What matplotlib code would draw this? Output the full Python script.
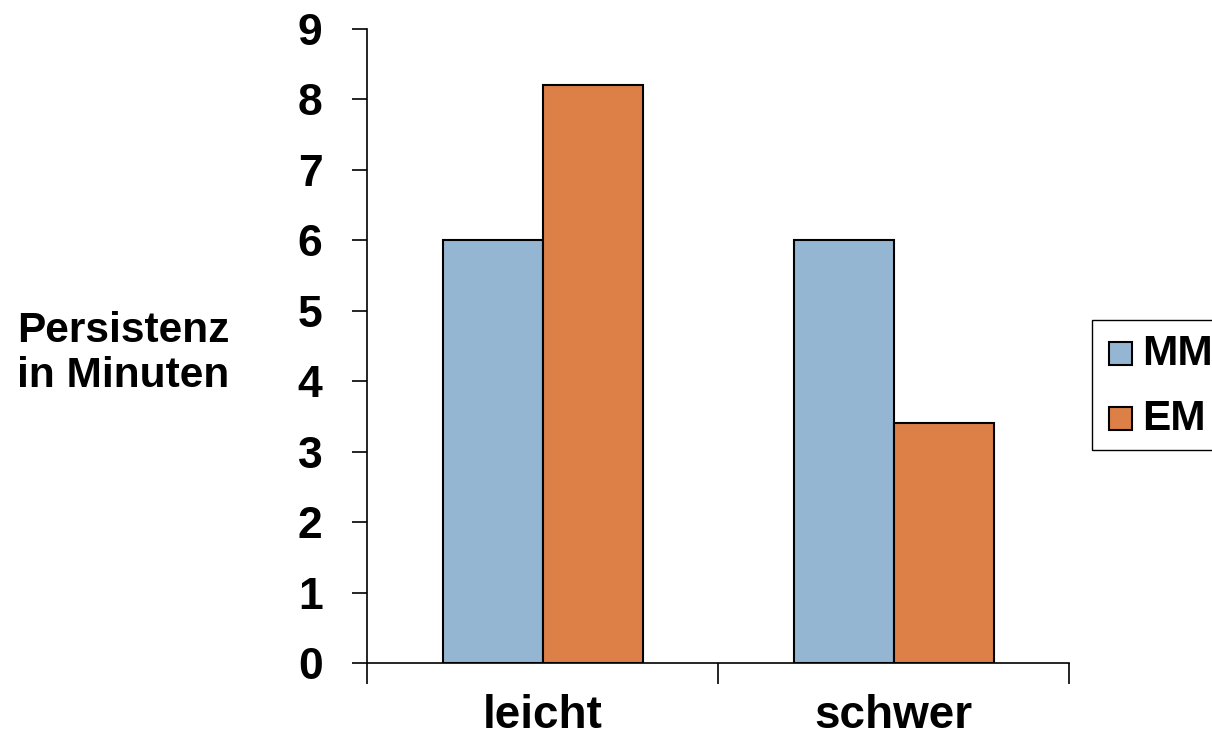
import matplotlib
matplotlib.use("Agg")
import matplotlib.pyplot as plt
from matplotlib.patches import Rectangle
import numpy as np

categories = ["leicht", "schwer"]
series_names = ["MM", "EM"]
mm_values = [6.0, 6.0]
em_values = [8.2, 3.4]
colors = ["#95b6d3", "#dd8048"]

plt.rcParams['font.family'] = ['Liberation Sans', 'DejaVu Sans']
plt.rcParams['font.weight'] = 'bold'

fig = plt.figure(figsize=(12.12, 7.38), dpi=100)
W, H = 1212, 738
def fx(px):
    return px / W
def fy(py):
    return 1 - py / H

ax = fig.add_axes([fx(367), fy(663), (1069-367)/W, (663-29)/H])

x = np.arange(len(categories))
bw = 100/351
ax.bar(x - bw/2, mm_values, bw, color=colors[0], edgecolor='black', linewidth=1.5, label=series_names[0])
ax.bar(x + bw/2, em_values, bw, color=colors[1], edgecolor='black', linewidth=1.5, label=series_names[1])

ax.set_xlim(-0.5, 1.5)
ax.set_ylim(0, 9)
ax.set_yticks(range(0, 10))
ax.tick_params(axis='y', direction='out', length=11, width=1.2, labelsize=32, pad=21)
ax.set_xticks([-0.5, 0.5, 1.5])
ax.set_xticklabels([])
ax.tick_params(axis='x', direction='out', length=15, width=1.2)
for lab in ax.get_yticklabels():
    lab.set_fontweight('bold')

ax.spines['top'].set_visible(False)
ax.spines['right'].set_visible(False)
ax.spines['left'].set_linewidth(1.2)
ax.spines['bottom'].set_linewidth(1.2)

# category labels
for i, c in enumerate(categories):
    xd = ax.transData.transform((i, 0))[0]
    fig.text(xd / W, fy(728), c, ha='center', va='baseline', fontsize=33, fontweight='bold')

# y label
fig.text(fx(17), fy(342), "Persistenz", ha='left', va='baseline', fontsize=30.5, fontweight='bold')
fig.text(fx(17), fy(387), "in Minuten", ha='left', va='baseline', fontsize=30.5, fontweight='bold')

# legend (manual, clipped at the right edge like the reference)
fig.patches.append(Rectangle((fx(1092), fy(450)), (1240-1092)/W, (450-320)/H,
                             transform=fig.transFigure, facecolor='white',
                             edgecolor='black', linewidth=1.0))
leg_rows = [342, 407]
for name, col, top in zip(series_names, colors, leg_rows):
    fig.patches.append(Rectangle((fx(1109), fy(top + 23)), 23/W, 23/H,
                                 transform=fig.transFigure, facecolor=col,
                                 edgecolor='black', linewidth=1.5))
    fig.text(fx(1142), fy(top + 23), name, ha='left', va='baseline',
             fontsize=30.5, fontweight='bold')

fig.savefig("out.png", dpi=100)
